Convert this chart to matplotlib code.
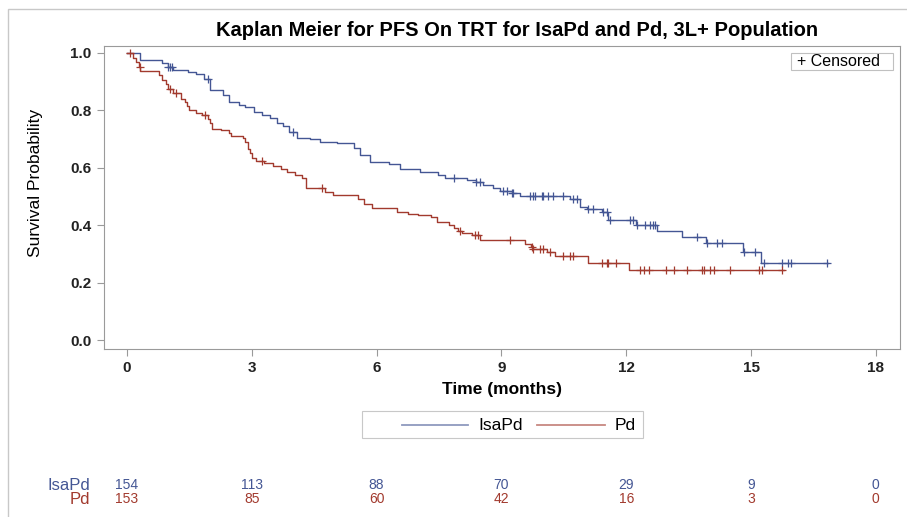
import numpy as np
import matplotlib
matplotlib.use("Agg")
import matplotlib.pyplot as plt
import matplotlib.transforms as mtransforms
from matplotlib.patches import Rectangle
from matplotlib.lines import Line2D

plt.rcParams['font.family'] = ['Liberation Sans', 'DejaVu Sans']

# Kaplan-Meier step points (time in months, survival after drop)
isa_t = [0, 0.31, 0.85, 1.0, 1.1, 1.47, 1.65, 1.85, 2.0, 2.3, 2.45, 2.7, 2.85, 3.05,
         3.25, 3.45, 3.6, 3.75, 3.9, 4.1, 4.4, 4.65, 5.05, 5.45, 5.6, 5.84, 6.3, 6.56,
         7.05, 7.48, 7.65, 8.17, 8.4, 8.56, 8.8, 8.97, 9.25, 9.45, 10.65, 10.89, 11.05,
         11.42, 11.57, 12.24, 12.73, 13.33, 13.92, 14.8, 15.23]
isa_s = [1.0, 0.975, 0.965, 0.952, 0.94, 0.935, 0.925, 0.91, 0.87, 0.855, 0.83, 0.82,
         0.81, 0.795, 0.785, 0.775, 0.755, 0.745, 0.725, 0.705, 0.70, 0.69, 0.685, 0.67,
         0.645, 0.62, 0.612, 0.595, 0.586, 0.575, 0.563, 0.557, 0.55, 0.54, 0.53, 0.52,
         0.513, 0.50, 0.49, 0.465, 0.455, 0.445, 0.418, 0.40, 0.38, 0.36, 0.337, 0.308, 0.27]
isa_end = 16.85
isa_cens = [1.0, 1.03, 1.08, 1.95, 3.99, 7.85, 8.4, 8.49, 9.04, 9.13, 9.25, 9.29, 9.69,
            9.76, 9.81, 9.97, 10.0, 10.13, 10.25, 10.49, 10.73, 10.81, 11.09, 11.21,
            11.45, 11.53, 11.61, 12.09, 12.17, 12.25, 12.45, 12.57, 12.65, 12.69, 13.7,
            13.94, 14.18, 14.3, 14.83, 15.1, 15.31, 15.74, 15.89, 15.96, 16.82]

pd_t = [0, 0.15, 0.22, 0.28, 0.32, 0.76, 0.85, 0.95, 1.0, 1.1, 1.3, 1.4, 1.45, 1.5,
        1.65, 1.8, 1.95, 2.0, 2.05, 2.25, 2.45, 2.5, 2.8, 2.85, 2.9, 2.95, 3.0, 3.1,
        3.3, 3.5, 3.7, 3.85, 4.05, 4.2, 4.3, 4.75, 4.95, 5.55, 5.7, 5.9, 6.49, 6.75,
        7.0, 7.3, 7.45, 7.75, 7.85, 7.95, 8.05, 8.3, 8.49, 9.57, 9.7, 9.77, 10.1,
        10.29, 11.08, 12.07]
pd_s = [1.0, 0.982, 0.968, 0.952, 0.938, 0.922, 0.905, 0.89, 0.875, 0.86, 0.84, 0.83,
        0.815, 0.80, 0.79, 0.785, 0.77, 0.755, 0.735, 0.73, 0.72, 0.71, 0.705, 0.69,
        0.665, 0.65, 0.635, 0.625, 0.615, 0.605, 0.595, 0.585, 0.575, 0.565, 0.53,
        0.515, 0.505, 0.49, 0.475, 0.46, 0.447, 0.44, 0.434, 0.428, 0.41, 0.40, 0.39,
        0.38, 0.372, 0.365, 0.348, 0.335, 0.325, 0.317, 0.305, 0.293, 0.267, 0.244]
pd_end = 15.8
pd_cens = [0.07, 0.31, 1.03, 1.19, 1.88, 3.24, 4.68, 8.0, 8.37, 8.44, 9.2, 9.73, 9.77,
           9.93, 9.99, 10.17, 10.49, 10.65, 10.71, 11.41, 11.53, 11.57, 11.75, 12.33,
           12.43, 12.55, 12.96, 13.16, 13.47, 13.81, 13.88, 14.01, 14.12, 14.5, 15.2,
           15.26, 15.74]

# numbers at risk
risk_times = [0, 3, 6, 9, 12, 15, 18]
isa_risk = [154, 113, 88, 70, 29, 9, 0]
pd_risk = [153, 85, 60, 42, 16, 3, 0]

BLUE = '#445694'
RED = '#A23A2E'
GRAY = '#9a9a9a'

W, H = 907, 517
fig = plt.figure(figsize=(W / 100, H / 100), dpi=100)


def fx(px):
    return px / W


def fy(py):
    return 1 - py / H


ax = fig.add_axes([fx(104), fy(349), fx(900) - fx(104), fy(46) - fy(349)])

curves = [(isa_t, isa_s, isa_end, isa_cens, BLUE),
          (pd_t, pd_s, pd_end, pd_cens, RED)]
for t, s, t_end, cens, col in curves:
    tt = np.append(t, t_end)
    ss = np.append(s, s[-1])
    ax.step(tt, ss, where='post', color=col, lw=1.0)
    idx = np.searchsorted(t, cens, side='right') - 1
    ax.plot(cens, np.array(s)[idx], linestyle='none', marker='+', ms=6, mew=0.9, color=col)

ax.set_xlim(-0.55, 18.58)
ax.set_ylim(-0.031, 1.024)
ax.set_xticks(risk_times)
ax.set_yticks([0.0, 0.2, 0.4, 0.6, 0.8, 1.0])
ax.set_yticklabels(['0.0', '0.2', '0.4', '0.6', '0.8', '1.0'])
for sp in ax.spines.values():
    sp.set_color(GRAY)
ax.tick_params(direction='out', length=5, width=0.8, color=GRAY, pad=4,
               labelsize=11, labelcolor='#222222')
for lbl in ax.get_xticklabels() + ax.get_yticklabels():
    lbl.set_fontweight('bold')

ax.set_xlabel('Time (months)', fontsize=12.5, fontweight='bold', labelpad=5)
fig.text(fx(36), fy(183), 'Survival Probability', rotation=90, ha='center',
         va='center', fontsize=12.5)
fig.text(fx(517), fy(30), 'Kaplan Meier for PFS On TRT for IsaPd and Pd, 3L+ Population',
         ha='center', va='center', fontsize=14.5, fontweight='bold')

# outer frame (left and top visible)
fig.add_artist(Rectangle((fx(8), -0.2), 1.3, fy(9) + 0.2, transform=fig.transFigure,
                         fill=False, edgecolor='#c8c8c8', lw=1.0))

# censored legend box
fig.add_artist(Rectangle((fx(791), fy(70)), fx(893) - fx(791), fy(53) - fy(70),
                         transform=fig.transFigure, facecolor='white',
                         edgecolor='#c0c0c0', lw=0.8))
fig.text(fx(797), fy(61.5), '+ Censored', ha='left', va='center', fontsize=11.5)

# bottom legend
fig.add_artist(Rectangle((fx(362), fy(438)), fx(643) - fx(362), fy(411) - fy(438),
                         transform=fig.transFigure, facecolor='white',
                         edgecolor='#c8c8c8', lw=0.8))
for x0, x1, xt, col, lab in [(402, 468, 478, BLUE, 'IsaPd'), (537, 605, 615, RED, 'Pd')]:
    fig.add_artist(Line2D([fx(x0), fx(x1)], [fy(425), fy(425)], transform=fig.transFigure,
                          color=col, lw=1.3, alpha=0.6))
    fig.text(fx(xt), fy(425), lab, ha='left', va='center', fontsize=12.5)

# at-risk table
trans = mtransforms.blended_transform_factory(ax.transData, fig.transFigure)
for row_y, lab, vals, col in [(485, 'IsaPd', isa_risk, BLUE), (499, 'Pd', pd_risk, RED)]:
    fig.text(fx(90), fy(row_y), lab, ha='right', va='center', color=col, fontsize=12)
    for t, n in zip(risk_times, vals):
        fig.text(t, fy(row_y), str(n), transform=trans, ha='center', va='center',
                 color=col, fontsize=10)

fig.savefig('out.png', dpi=100)
